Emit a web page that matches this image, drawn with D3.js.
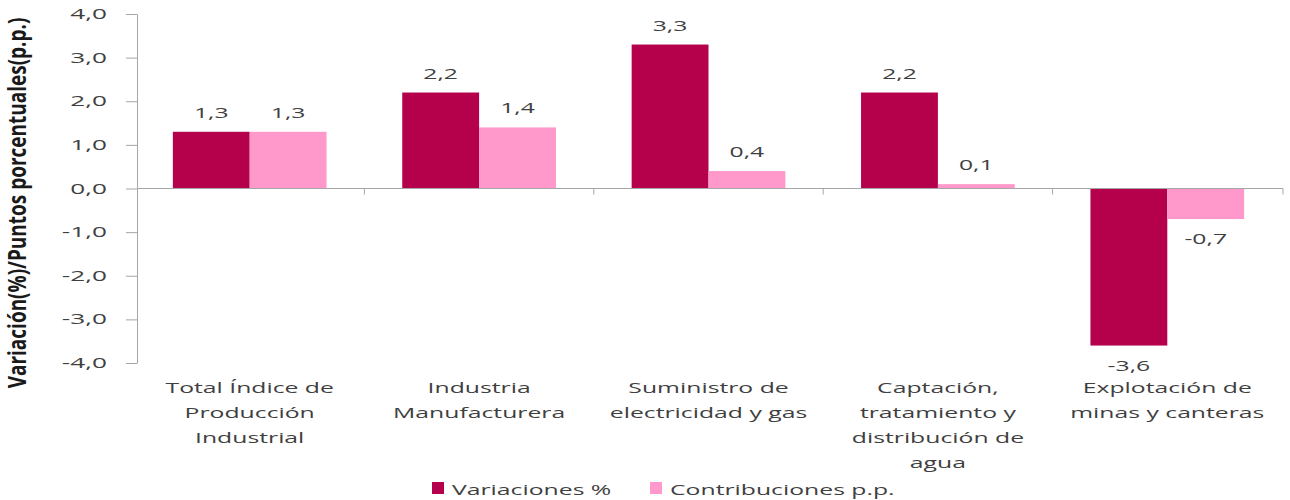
<!DOCTYPE html>
<html>
<head>
<meta charset="utf-8">
<script src="https://cdn.jsdelivr.net/npm/d3@7"></script>
<style>
  body { margin: 0; background: #fff; }
  svg { display: block; }
</style>
</head>
<body>
<svg id="grafico"></svg>
<script>
const ancho = 1290;
const alto = 500;

// datos
const categorias = [
  ["Total Índice de", "Producción", "Industrial"],
  ["Industria", "Manufacturera"],
  ["Suministro de", "electricidad y gas"],
  ["Captación,", "tratamiento y", "distribución de", "agua"],
  ["Explotación de", "minas y canteras"]
];
const variaciones = [1.3, 2.2, 3.3, 2.2, -3.6];
const contribuciones = [1.3, 1.4, 0.4, 0.1, -0.7];
const series = ["Variaciones %", "Contribuciones p.p."];
const colores = ["#B5004B", "#FF99CC"];
const ticksY = [4, 3, 2, 1, 0, -1, -2, -3, -4];

const estira = 1.65; // el texto original aparece ensanchado
const fuente = "'Open Sans', 'Noto Sans', sans-serif";
const gris = "#3f3f3f";

const formato = v => d3.format(".1f")(v).replace(".", ",").replace("\u2212", "-");

const svg = d3.select("#grafico").attr("width", ancho).attr("height", alto);

const nombres = categorias.map(c => c.join(" "));
const x = d3.scaleBand().domain(nombres).range([135, 1282]).paddingInner(0.33).paddingOuter(0.165);
const xSerie = d3.scaleBand().domain(series).range([0, x.bandwidth()]);
const y = d3.scaleLinear().domain([-4, 4]).range([363, 14]);

function texto(g, px, py, cadena, opciones = {}) {
  return g.append("text")
    .attr("transform", `translate(${px},${py}) scale(${opciones.estira || estira},1)`)
    .attr("text-anchor", opciones.anchor || "middle")
    .attr("font-family", fuente)
    .attr("font-size", opciones.size || 15)
    .attr("fill", opciones.color || gris)
    .text(cadena);
}

// eje y
const ejeY = svg.append("g").attr("transform", "translate(137,0)")
  .call(d3.axisLeft(y).tickValues(ticksY).tickSize(11).tickSizeOuter(0).tickFormat(() => ""));
ejeY.select(".domain").attr("stroke", "#a6a6a6");
ejeY.selectAll(".tick line").attr("stroke", "#a6a6a6");

const gTicks = svg.append("g");
ticksY.forEach(v => {
  texto(gTicks, 107, y(v) + 5, formato(v), { anchor: "end", size: 15, estira: 1.75 });
});

// título eje y
svg.append("text")
  .attr("transform", `translate(26,203) scale(1.3,1) rotate(-90)`)
  .attr("text-anchor", "middle")
  .attr("font-family", "'Liberation Sans Narrow', 'Open Sans', sans-serif")
  .attr("font-weight", 700)
  .attr("font-size", 19)
  .attr("fill", "#1a1a1a")
  .text("Variación(%)/Puntos porcentuales(p.p.)");

// barras
const filas = nombres.map((n, i) => ({ nombre: n, valores: [variaciones[i], contribuciones[i]] }));

const grupos = svg.append("g").selectAll("g.grupo").data(filas).join("g")
  .attr("class", "grupo")
  .attr("transform", d => `translate(${x(d.nombre)},0)`);

grupos.selectAll("rect").data(d => d.valores.map((v, j) => ({ v, serie: series[j], j }))).join("rect")
  .attr("x", d => xSerie(d.serie))
  .attr("width", xSerie.bandwidth())
  .attr("y", d => y(Math.max(0, d.v)))
  .attr("height", d => Math.abs(y(d.v) - y(0)))
  .attr("fill", d => colores[d.j]);

// eje x en el cero
const ejeX = svg.append("g").attr("transform", `translate(0,${y(0)})`);
ejeX.append("line").attr("x1", 137).attr("x2", 1283).attr("stroke", "#a6a6a6");
const bordes = nombres.map(n => x(n) - x.step() * x.paddingInner() / 2).slice(1).concat([1283]);
ejeX.selectAll("line.tick").data(bordes).join("line")
  .attr("class", "tick")
  .attr("x1", d => d).attr("x2", d => d)
  .attr("y1", 0).attr("y2", 6)
  .attr("stroke", "#a6a6a6");

// etiquetas de datos
grupos.each(function(d) {
  const g = d3.select(this);
  d.valores.forEach((v, j) => {
    const cx = xSerie(series[j]) + xSerie.bandwidth() / 2;
    const py = v >= 0 ? y(v) - 14 : y(v) + 25;
    texto(g, cx, py, formato(v), { size: 15 });
  });
});

// etiquetas de categoría
const gCat = svg.append("g");
categorias.forEach((lineas, i) => {
  const cx = x(nombres[i]) + x.bandwidth() / 2;
  lineas.forEach((l, k) => {
    texto(gCat, cx, 393 + k * 25, l, { size: 15 });
  });
});

// leyenda
const leyenda = svg.append("g");
const posLeyenda = [432, 650];
series.forEach((s, j) => {
  leyenda.append("rect")
    .attr("x", posLeyenda[j]).attr("y", 482)
    .attr("width", 12).attr("height", 12)
    .attr("fill", colores[j]);
  texto(leyenda, posLeyenda[j] + 20, 495, s, { anchor: "start", size: 15 });
});
</script>
</body>
</html>
